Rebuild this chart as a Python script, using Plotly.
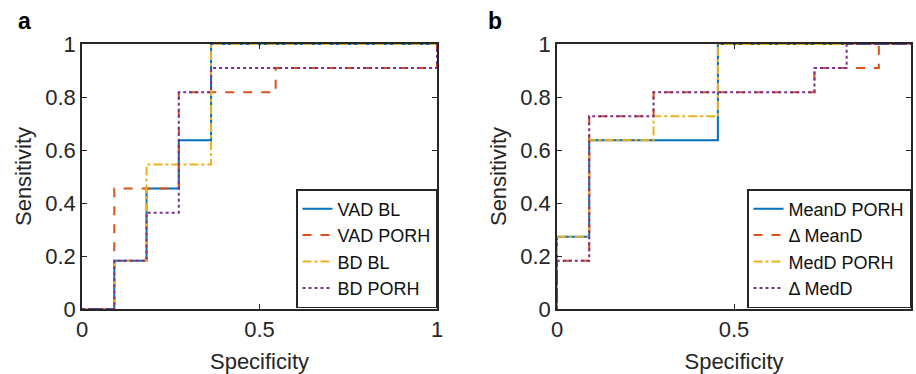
import plotly.graph_objects as go

# ---- Panel a data (ROC corner points, specificity axis) ----
a_names = ["VAD BL", "VAD PORH", "BD BL", "BD PORH"]
a_vad_bl_x = [0, 0.0909, 0.1818, 0.2727, 0.3636, 1]
a_vad_bl_y = [0, 0.1818, 0.4545, 0.6364, 1, 1]
a_vad_porh_x = [0, 0.0909, 0.2727, 0.5455, 1]
a_vad_porh_y = [0, 0.4545, 0.8182, 0.9091, 1]
a_bd_bl_x = [0, 0.0909, 0.1818, 0.3636, 1]
a_bd_bl_y = [0, 0.1818, 0.5455, 1, 1]
a_bd_porh_x = [0, 0.0909, 0.1818, 0.2727, 0.3636, 1]
a_bd_porh_y = [0, 0.1818, 0.3636, 0.8182, 0.9091, 1]

# ---- Panel b data ----
b_names = ["MeanD PORH", "Δ MeanD", "MedD PORH", "Δ MedD"]
b_meand_porh_x = [0, 0, 0.0909, 0.4545, 1]
b_meand_porh_y = [0, 0.2727, 0.6364, 1, 1]
b_d_meand_x = [0, 0, 0.0909, 0.2727, 0.7273, 0.9091, 1]
b_d_meand_y = [0, 0.1818, 0.7273, 0.8182, 0.9091, 1, 1]
b_medd_porh_x = [0, 0, 0.0909, 0.2727, 0.4545, 1]
b_medd_porh_y = [0, 0.2727, 0.6364, 0.7273, 1, 1]
b_d_medd_x = [0, 0, 0.0909, 0.2727, 0.7273, 0.8182, 1]
b_d_medd_y = [0, 0.1818, 0.7273, 0.8182, 0.9091, 1, 1]

x_ticks = [0, 0.5, 1]
x_ticklabels = ["0", "0.5", "1"]
y_ticks = [0, 0.2, 0.4, 0.6, 0.8, 1]
y_ticklabels = ["0", "0.2", "0.4", "0.6", "0.8", "1"]

colors = ["#0072BD", "#D95319", "#EDB120", "#7E2F8E"]
dashes = ["solid", "dash", "dashdot", "dot"]
FONT = "Liberation Sans, Arial, sans-serif"

fig = go.Figure()

a_series = [(a_vad_bl_x, a_vad_bl_y), (a_vad_porh_x, a_vad_porh_y),
            (a_bd_bl_x, a_bd_bl_y), (a_bd_porh_x, a_bd_porh_y)]
for i, (xs, ys) in enumerate(a_series):
    fig.add_trace(go.Scatter(x=xs, y=ys, mode="lines", name=a_names[i],
                             line=dict(color=colors[i], dash=dashes[i], width=2, shape="hv"),
                             xaxis="x", yaxis="y", legend="legend"))

b_series = [(b_meand_porh_x, b_meand_porh_y), (b_d_meand_x, b_d_meand_y),
            (b_medd_porh_x, b_medd_porh_y), (b_d_medd_x, b_d_medd_y)]
for i, (xs, ys) in enumerate(b_series):
    fig.add_trace(go.Scatter(x=xs, y=ys, mode="lines", name=b_names[i],
                             line=dict(color=colors[i], dash=dashes[i], width=2, shape="hv"),
                             xaxis="x2", yaxis="y2", legend="legend2"))

W, H = 916, 374
TXT = "#262626"
ax_common = dict(range=[0, 1], showgrid=False, zeroline=False, showline=True,
                 linecolor=TXT, linewidth=1.6, mirror="ticks", ticks="inside",
                 ticklen=5, tickwidth=1.2, tickcolor=TXT, automargin=False,
                 tickfont=dict(family=FONT, size=22, color=TXT))

def xax(domain, anchor):
    d = dict(ax_common)
    d.update(domain=domain, anchor=anchor, tickvals=x_ticks, ticktext=x_ticklabels,
             title=dict(text="Specificity", font=dict(family=FONT, size=22, color=TXT), standoff=12))
    return d

def yax(domain, anchor):
    d = dict(ax_common)
    d.update(domain=domain, anchor=anchor, tickvals=y_ticks, ticktext=y_ticklabels,
             title=dict(text="Sensitivity", font=dict(family=FONT, size=22, color=TXT), standoff=8))
    return d

ydom = [1 - 309 / H, 1 - 44 / H]
legend_common = dict(bgcolor="white", bordercolor=TXT, borderwidth=1.5,
                     font=dict(family=FONT, size=18, color="#111111"),
                     xanchor="right", yanchor="bottom", tracegroupgap=0,
                     itemwidth=30)

fig.update_layout(
    width=W, height=H,
    margin=dict(l=0, r=0, t=0, b=0, autoexpand=False),
    paper_bgcolor="white", plot_bgcolor="white",
    xaxis=xax([82 / W, 437 / W], "y"),
    yaxis=yax(ydom, "x"),
    xaxis2=xax([557 / W, 911 / W], "y2"),
    yaxis2=yax(ydom, "x2"),
    legend=dict(legend_common, x=437 / W, y=1 - 308 / H),
    legend2=dict(legend_common, x=911 / W, y=1 - 308 / H),
    annotations=[
        dict(text="<b>a</b>", x=16 / W, y=1 - 6 / H, xref="paper", yref="paper",
             xanchor="left", yanchor="top", showarrow=False,
             font=dict(family=FONT, size=23, color="black")),
        dict(text="<b>b</b>", x=486 / W, y=1 - 6 / H, xref="paper", yref="paper",
             xanchor="left", yanchor="top", showarrow=False,
             font=dict(family=FONT, size=23, color="black")),
    ],
)

fig.write_html("out.html", config={"displayModeBar": False},
               post_script="document.body.style.margin='0px';")
